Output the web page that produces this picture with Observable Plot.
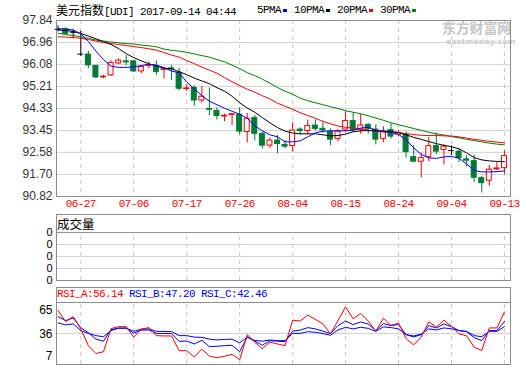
<!DOCTYPE html>
<html><head><meta charset="utf-8">
<script src="https://cdn.jsdelivr.net/npm/d3@7"></script>
<script src="https://cdn.jsdelivr.net/npm/@observablehq/plot@0.6"></script>
<style>
body{margin:0;background:#fff;}
#wrap{position:relative;width:520px;height:365px;overflow:hidden;background:#fff;}
.abs{position:absolute;white-space:nowrap;}
.mono{font-family:"Liberation Mono","DejaVu Sans Mono",monospace;font-size:11px;letter-spacing:-0.6px;}
.cjk{font-family:"Noto Sans CJK SC",sans-serif;font-size:12px;letter-spacing:0;}
.leg i{display:inline-block;width:4px;height:3px;margin:0 7px 0 2px;}
svg{position:absolute;left:0;}
</style></head><body><div id="wrap">
<div class="abs" style="left:56px;top:2px;line-height:16px;color:#000;"><span class="cjk">美元指数</span><span class="mono">[UDI] 2017-09-14 04:44</span></div>
<div class="abs mono leg" style="left:257px;top:2px;line-height:16px;display:flex;align-items:center;color:#000;">
<span>5PMA</span><i style="background:#0000ff"></i><span>10PMA</span><i style="background:#000"></i><span>20PMA</span><i style="background:#ff0000"></i><span>30PMA</span><i style="background:#008000"></i></div>
<div class="abs" style="left:442px;top:20px;line-height:15px;height:15px;font-family:'Noto Sans CJK SC';font-weight:bold;font-size:14px;color:#c6c6c6;letter-spacing:-0.2px;">东方财富网</div>
<div class="abs" style="left:446px;top:38px;line-height:7px;height:7px;font-family:'DejaVu Sans';font-weight:bold;font-size:7.5px;color:#cdcdcd;letter-spacing:0.3px;">eastmoney.com</div>
<div class="abs" style="left:57px;top:216px;font-family:'Noto Sans CJK SC';font-size:12.5px;line-height:15px;color:#000;">成交量</div>
<div class="abs mono" style="left:57px;top:287px;line-height:14px;"><span style="color:#ff0000">RSI_A:56.14</span> <span style="color:#0000ff">RSI_B:47.20</span> <span style="color:#0000ff">RSI_C:42.46</span></div>
</div>
<script>
const dates = ["06-22","06-23","06-26","06-27","06-28","06-29","06-30","07-03","07-04","07-05",
"07-06","07-07","07-10","07-11","07-12","07-13","07-14","07-17","07-18","07-19",
"07-20","07-21","07-24","07-25","07-26","07-27","07-28","07-31","08-01","08-02",
"08-03","08-04","08-07","08-08","08-09","08-10","08-11","08-14","08-15","08-16",
"08-17","08-18","08-21","08-22","08-23","08-24","08-25","08-28","08-29","08-30",
"08-31","09-01","09-04","09-05","09-06","09-07","09-08","09-11","09-12","09-13"];
const open = [97.49,97.49,97.37,96.50,96.48,96.03,95.58,95.65,96.13,96.21,
96.21,95.81,96.03,96.00,95.87,95.93,95.76,95.11,95.15,94.65,
94.31,94.23,94.02,94.08,94.08,93.39,93.95,93.32,92.85,93.05,
92.88,92.83,93.49,93.43,93.65,93.52,93.39,93.12,93.49,93.83,
93.48,93.68,93.49,93.12,93.47,93.28,93.28,92.39,92.21,92.39,
92.83,92.68,92.65,92.61,92.30,92.23,91.55,91.45,91.90,91.95];
const high = [97.63,97.55,97.47,97.41,96.61,96.05,95.66,96.23,96.30,96.44,
96.25,96.05,96.19,96.22,95.97,96.05,95.93,95.28,95.24,95.21,
95.15,94.36,94.11,94.12,94.36,94.13,94.05,93.40,93.15,93.25,
93.05,93.76,93.56,93.87,93.88,93.79,93.52,93.49,94.20,94.15,
94.10,93.72,93.68,93.60,93.72,93.45,93.40,92.85,92.55,93.17,
93.36,92.89,92.83,92.71,92.45,92.47,91.62,92.06,92.17,92.63];
const low = [97.39,97.28,97.11,96.40,95.92,95.52,95.52,95.61,96.08,96.04,
95.77,95.73,95.92,95.65,95.51,95.45,95.04,95.01,94.42,94.55,
94.05,93.87,93.81,93.65,93.28,92.96,93.04,92.71,92.74,92.53,
92.72,92.60,93.28,93.28,93.44,93.35,92.85,93.00,93.38,93.38,
93.30,93.31,92.88,92.96,93.11,93.20,92.35,92.17,91.56,92.20,
92.48,92.08,92.45,92.17,92.00,91.37,90.96,91.23,91.85,91.70];
const close = [97.49,97.31,97.37,96.50,96.05,95.57,95.60,96.15,96.24,96.19,
95.81,95.99,96.06,95.79,95.90,95.89,95.12,95.13,94.65,94.80,
94.28,94.03,94.04,94.10,93.41,93.92,93.32,92.85,93.05,92.91,
92.81,93.45,93.43,93.63,93.52,93.46,93.09,93.41,93.83,93.48,
93.65,93.52,93.09,93.41,93.21,93.35,92.59,92.21,92.35,92.83,
92.61,92.81,92.65,92.35,92.25,91.57,91.35,91.89,91.94,92.43];
const ma5 = [97.51,97.50,97.46,97.31,97.00,96.62,96.28,96.02,95.97,95.97,
95.99,96.04,96.10,96.06,95.96,95.82,95.76,95.38,95.12,94.84,
94.62,94.48,94.34,94.22,94.10,93.94,93.64,93.44,93.28,93.20,
93.00,93.00,93.04,93.20,93.36,93.42,93.44,93.44,93.44,93.46,
93.55,93.58,93.46,93.40,93.38,93.30,93.08,92.76,92.50,92.36,
92.34,92.40,92.42,92.34,92.12,91.86,91.80,91.80,91.81,91.84];
const ma10 = [97.46,97.44,97.40,97.32,97.22,97.11,97.00,96.88,96.72,96.52,
96.36,96.23,96.11,96.02,95.94,95.91,95.80,95.68,95.54,95.43,
95.32,95.16,95.02,94.82,94.56,94.35,94.18,93.97,93.76,93.57,
93.43,93.35,93.32,93.32,93.32,93.28,93.24,93.25,93.31,93.40,
93.44,93.45,93.44,93.43,93.41,93.37,93.28,93.18,93.10,93.01,
92.93,92.86,92.81,92.72,92.56,92.37,92.28,92.24,92.22,92.21];
const ma20 = [97.19,97.18,97.16,97.13,97.08,97.02,96.96,96.92,96.88,96.84,
96.80,96.76,96.71,96.66,96.56,96.46,96.38,96.24,96.12,95.98,
95.86,95.74,95.56,95.40,95.24,95.10,94.98,94.84,94.71,94.54,
94.42,94.30,94.16,94.05,93.94,93.82,93.72,93.63,93.58,93.55,
93.52,93.47,93.42,93.40,93.40,93.37,93.33,93.29,93.26,93.25,
93.25,93.24,93.23,93.20,93.15,93.10,93.06,93.02,92.99,92.96];
const ma30 = [97.33,97.28,97.24,97.19,97.13,97.06,97.02,96.98,96.95,96.92,
96.90,96.86,96.83,96.79,96.70,96.65,96.62,96.57,96.51,96.44,
96.38,96.28,96.19,96.06,95.92,95.76,95.64,95.50,95.34,95.17,
95.02,94.90,94.74,94.64,94.56,94.48,94.40,94.33,94.24,94.18,
94.12,94.04,93.95,93.86,93.76,93.68,93.61,93.53,93.46,93.38,
93.32,93.27,93.21,93.16,93.10,93.05,93.00,92.95,92.91,92.88];
const rsiA = [57.5,47.1,51.8,40.3,24.6,17.3,18.9,40.6,42.4,42.4,
32.6,40.1,41.5,34.0,33.7,33.7,19.9,19.9,14.0,21.3,
14.9,13.3,14.7,16.6,11.4,34.9,27.9,21.8,27.9,26.2,
24.6,48.5,47.6,53.2,49.2,45.1,35.7,48.1,60.8,49.8,
54.8,47.6,38.2,50.2,43.6,45.7,31.2,25.3,32.6,46.9,
42.0,48.5,42.7,35.7,33.8,23.2,20.1,41.2,41.2,56.14];
const rsiB = [51.8,48.1,50.4,41.5,36.8,30.7,28.8,39.6,41.0,41.0,
36.3,39.1,39.3,36.1,36.1,35.9,28.6,29.0,26.2,29.7,
23.6,24.1,24.6,25.0,18.9,32.8,28.8,25.0,29.3,28.8,
28.3,38.2,39.1,41.5,40.3,38.2,35.9,43.4,47.6,44.3,
46.8,44.8,38.7,45.3,43.4,44.3,34.9,32.8,34.9,43.4,
41.2,45.0,42.4,38.7,37.7,32.1,29.3,38.7,38.7,47.20];
const rsiC = [45.9,44.0,45.0,38.7,36.1,34.0,33.0,38.7,41.0,41.0,
38.0,40.1,40.3,38.0,38.0,37.7,34.0,34.0,32.6,32.4,
30.7,30.0,30.4,30.7,27.2,32.6,29.5,28.8,29.9,29.3,
29.3,36.1,36.1,37.7,37.1,35.9,34.4,39.3,41.8,40.3,
41.8,40.8,38.0,42.2,41.5,40.3,34.9,33.7,35.4,40.3,
39.3,41.2,40.3,38.7,38.0,34.0,33.0,38.0,38.0,42.46];
const priceTicks = [97.84,96.96,96.08,95.21,94.33,93.45,92.58,91.70,90.82];
const dateTicks = ["06-27","07-06","07-17","07-26","08-04","08-15","08-24","09-04","09-13"];
const volTicks = [0,1,2,3,4];
const volLabels = ["0","0","0","0","0"];
const rsiTicks = [65,36,7];

const rows = dates.map((d,i)=>({i, date:d, open:open[i], high:high[i], low:low[i], close:close[i],
  ma5:ma5[i], ma10:ma10[i], ma20:ma20[i], ma30:ma30[i], rsiA:rsiA[i], rsiB:rsiB[i], rsiC:rsiC[i]}));
const tickIdx = dateTicks.map(t=>dates.indexOf(t));
const xDom = [-0.21, 59.8];
const RED="#ff0000", GREEN="#007a35", BLUE="#0000ff", FRAME="#8c8c8c", GRID="#d2d2d2";
const col = d => d.close>d.open ? RED : (d.close<d.open ? GREEN : "#000000");
const baseStyle = {background:"transparent", fontFamily:"'Liberation Sans', Arial, sans-serif", fontSize:"12px", overflow:"visible"};
const wrap = document.getElementById("wrap");

const main = Plot.plot({
  width:520, height:212, marginTop:20, marginBottom:16, marginLeft:56, marginRight:10,
  style:baseStyle,
  x:{domain:xDom, axis:null}, y:{domain:[90.82,97.84]},
  marks:[
    Plot.gridY(priceTicks.slice(1,-1), {stroke:GRID, strokeOpacity:1}),
    Plot.gridX(tickIdx, {stroke:"#c8c8c8", strokeOpacity:1, strokeDasharray:"4,4"}),
    Plot.frame({stroke:FRAME}),
    Plot.axisY(priceTicks, {tickSize:0, tickPadding:4, tickFormat:d=>d.toFixed(2), fill:"#333", fontSize:12}),
    Plot.text(tickIdx, {x:d=>d, frameAnchor:"bottom", dy:10, text:i=>dates[i], fill:RED, fontSize:11, fontFamily:"'Liberation Mono', monospace"}),
    Plot.ruleX(rows, {x:"i", y1:"low", y2:"high", stroke:col}),
    Plot.rect(rows, {x1:d=>d.i-0.33, x2:d=>d.i+0.33, y1:"open", y2:"close", fill:d=>d.close>d.open?"#ffffff":GREEN, stroke:col}),
    Plot.ruleY(rows.filter(d=>Math.abs(d.close-d.open)<0.03), {y:"close", x1:d=>d.i-0.38, x2:d=>d.i+0.38, stroke:col}),
    Plot.line(rows, {x:"i", y:"ma30", stroke:"#008000", strokeWidth:1}),
    Plot.line(rows, {x:"i", y:"ma20", stroke:RED, strokeWidth:1}),
    Plot.line(rows, {x:"i", y:"ma10", stroke:"#000000", strokeWidth:1}),
    Plot.line(rows, {x:"i", y:"ma5", stroke:BLUE, strokeWidth:1})
  ]
});
main.style.top = "0px";
d3.select(main).selectAll('g[aria-label="text"] text').style("letter-spacing","-0.6px");
wrap.appendChild(main);

const vol = Plot.plot({
  width:520, height:70, marginTop:2, marginBottom:2, marginLeft:56, marginRight:10,
  style:baseStyle,
  x:{domain:xDom, axis:null}, y:{domain:[0,5.51]},
  marks:[
    Plot.ruleY([1,2,3], {stroke:GRID}),
    Plot.ruleX(tickIdx, {y1:0, y2:4, stroke:"#c8c8c8", strokeDasharray:"4,4"}),
    Plot.ruleY([4], {stroke:FRAME}),
    Plot.frame({stroke:FRAME}),
    Plot.axisY(volTicks, {tickSize:0, tickPadding:4, tickFormat:(d,k)=>volLabels[k], fill:"#000", fontSize:11})
  ]
});
vol.style.top = "212px";
wrap.appendChild(vol);

const rsi = Plot.plot({
  width:520, height:80, marginTop:2, marginBottom:1, marginLeft:56, marginRight:10,
  style:baseStyle,
  x:{domain:xDom, axis:null}, y:{domain:[7,79]},
  marks:[
    Plot.ruleY([36], {stroke:GRID}),
    Plot.ruleX(tickIdx, {y1:7, y2:65, stroke:"#c8c8c8", strokeDasharray:"4,4"}),
    Plot.ruleY([65], {stroke:FRAME}),
    Plot.frame({stroke:FRAME}),
    Plot.axisY([rsiTicks[0]], {tickSize:0, tickPadding:4, fill:"#000", fontSize:12, dy:8}),
    Plot.axisY([rsiTicks[1]], {tickSize:0, tickPadding:4, fill:"#000", fontSize:12, dy:1}),
    Plot.axisY([rsiTicks[2]], {tickSize:0, tickPadding:4, fill:"#000", fontSize:12, dy:-8}),
    Plot.line(rows, {x:"i", y:"rsiC", stroke:BLUE, strokeWidth:1}),
    Plot.line(rows, {x:"i", y:"rsiB", stroke:BLUE, strokeWidth:1}),
    Plot.line(rows, {x:"i", y:"rsiA", stroke:RED, strokeWidth:1})
  ]
});
rsi.style.top = "285px";
wrap.appendChild(rsi);
</script></body></html>
